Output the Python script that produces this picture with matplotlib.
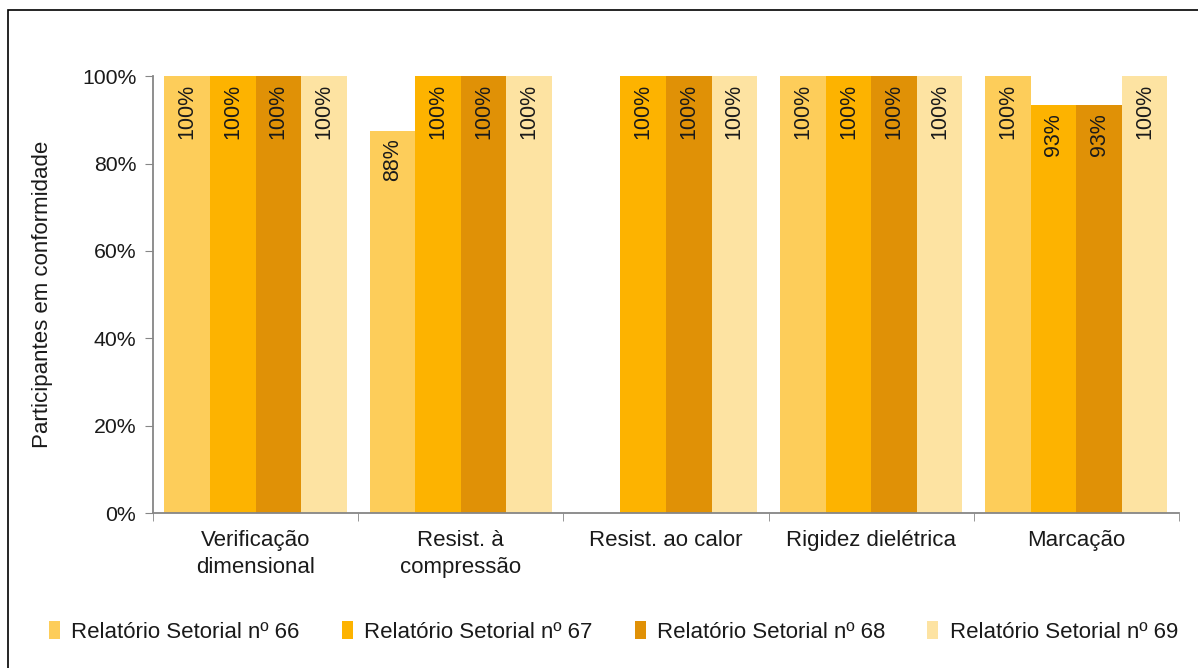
import matplotlib.pyplot as plt
import numpy as np
from matplotlib.patches import Patch, Rectangle

plt.rcParams['font.family'] = ['Liberation Sans', 'DejaVu Sans']

categorias = ['Verificação\ndimensional', 'Resist. à\ncompressão', 'Resist. ao calor',
              'Rigidez dielétrica', 'Marcação']
series = ['Relatório Setorial nº 66', 'Relatório Setorial nº 67',
          'Relatório Setorial nº 68', 'Relatório Setorial nº 69']
rs66 = [1.00, 0.875, np.nan, 1.00, 1.00]
rs67 = [1.00, 1.00, 1.00, 1.00, 0.933]
rs68 = [1.00, 1.00, 1.00, 1.00, 0.933]
rs69 = [1.00, 1.00, 1.00, 1.00, 1.00]
cores = ['#FDCD5A', '#FDB300', '#E09106', '#FDE3A2']

fig = plt.figure(figsize=(11.98, 6.68), dpi=100)
ax = fig.add_axes([0.1277, 0.232, 0.8564, 0.654])

x = np.arange(len(categorias))
w = 0.222
for i, (vals, cor) in enumerate(zip([rs66, rs67, rs68, rs69], cores)):
    pos = x + (i - 1.5) * w
    ax.bar(pos, vals, width=w, color=cor, label=series[i])
    for p, v in zip(pos, vals):
        if np.isnan(v):
            continue
        ax.text(p, v - 0.018, f'{v:.0%}', rotation=90, ha='center', va='top',
                fontsize=15.5, color='#1a1a1a')

ax.set_xlim(-0.5, len(categorias) - 0.5)
ax.set_ylim(0, 1)
ax.set_yticks(np.linspace(0, 1, 6))
ax.set_yticklabels([f'{t:.0%}' for t in np.linspace(0, 1, 6)])
ax.set_xticks(x)
ax.set_xticklabels(categorias, linespacing=1.4)
ax.set_xticks(np.arange(-0.5, len(categorias)), minor=True)
ax.tick_params(axis='x', which='major', length=0, pad=12, labelsize=16,
               labelcolor='#1a1a1a')
ax.tick_params(axis='x', which='minor', length=6, color='#868686', direction='out')
ax.tick_params(axis='y', length=6, color='#868686', labelsize=15.3,
               labelcolor='#1a1a1a', pad=6)
ax.set_ylabel('Participantes em conformidade', fontsize=16, color='#1a1a1a',
              labelpad=21)
for s in ['top', 'right']:
    ax.spines[s].set_visible(False)
for s in ['left', 'bottom']:
    ax.spines[s].set_color('#868686')
    ax.spines[s].set_linewidth(1.3)

handles = [Patch(facecolor=c, edgecolor='none') for c in cores]
fig.legend(handles, series, loc='center', bbox_to_anchor=(0.512, 0.054), ncol=4,
           frameon=False, fontsize=16, handlelength=0.5, handleheight=0.9,
           handletextpad=0.5, columnspacing=1.9, labelcolor='#1a1a1a')

# moldura externa
fig.patches.append(Rectangle((8 / 1198, -0.05), 1.2, 1 - 10 / 668 + 0.05,
                             transform=fig.transFigure, fill=False,
                             edgecolor='black', linewidth=1.2))

fig.savefig('out.png', dpi=100)
